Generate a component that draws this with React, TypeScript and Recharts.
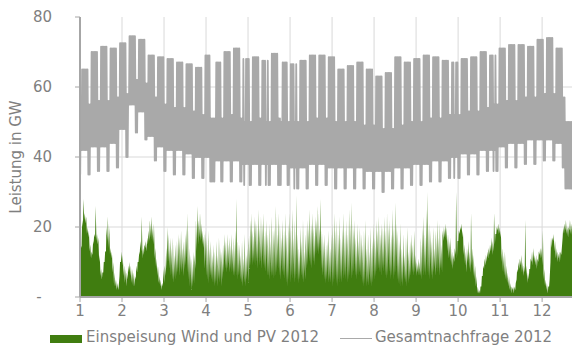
import React from 'react';
import { ComposedChart, Area, Line, XAxis, YAxis, CartesianGrid, Legend } from 'recharts';

const FONT = '"DejaVu Sans", Arial, sans-serif';
const TEXT = '#7f7f7f';
const AXIS = '#a6a6a6';
const GREEN = '#407d10';
const GREY = '#a9a9a9';

// x axis: one unit = 744 h (31 days), labels 1..12
const MONTH_TICKS = [1, 2, 3, 4, 5, 6, 7, 8, 9, 10, 11, 12];
const GRID_X = [2, 3, 4, 5, 6, 7, 8, 9, 10, 11, 12];
const Y_TICKS = [0, 20, 40, 60, 80];
const GRID_Y = [20, 40, 60];

// Gesamtnachfrage 2012, GW, per week (Mon-Sun, week 0 starts 2 Jan)
const weekdayPeak = [
  65, 70, 71.5, 71, 72.5, 74.5, 73.5, 69, 68.5, 68, 67, 66.5, 65.5,
  69, 67, 70, 71, 68, 68.5, 67.5, 69.5, 67, 66.5, 67.5, 69, 69,
  68.5, 65, 66, 67, 65, 63, 64, 68.5, 67, 68, 69, 68.5, 67.5,
  67, 68, 68.5, 70, 69, 71, 72, 72, 71.5, 73.5, 74, 71, 58,
];
const weekdayNight = [
  42, 43, 43, 44, 48, 55, 53, 46, 43, 42, 42, 41, 40,
  40, 39, 39, 39, 38, 38, 38, 38, 38, 37, 37, 38, 38,
  37, 37, 37, 37, 36, 36, 36, 37, 37, 38, 38, 39, 39,
  40, 41, 41, 42, 42, 43, 44, 44, 45, 45, 45, 44, 37,
];
const weekendPeak = [
  55, 56, 56, 57, 58, 62, 61, 57, 55, 54, 54, 53, 52,
  51, 51, 52, 51, 50, 51, 50, 51, 50, 50, 50, 51, 51,
  50, 50, 50, 49, 49, 48, 48, 49, 50, 50, 51, 51, 52,
  52, 53, 53, 54, 55, 56, 56, 57, 57, 58, 58, 57, 50,
];
const weekendNight = [
  35, 36, 36, 37, 40, 47, 45, 39, 36, 35, 35, 34, 34,
  33, 33, 33, 33, 32, 32, 32, 32, 32, 31, 31, 32, 32,
  31, 31, 31, 31, 31, 30, 31, 31, 32, 32, 33, 33, 34,
  34, 35, 35, 36, 36, 37, 37, 38, 38, 39, 39, 37, 31,
];
// public holidays (day of year, 0 = 1 Jan)
const holidays = [0, 96, 99, 121, 137, 148, 158, 276, 305, 358, 359, 360, 361, 362, 363, 364, 365];

// Einspeisung Wind und PV 2012, GW, per day [night, midday]
const windPvQ1 = [
  [8, 15], [14, 22], [20, 28], [22, 24], [21, 23], [18, 20], [17, 19], [13, 15], [11, 13], [12, 15],
  [16, 18], [17, 26], [16, 18], [15, 17], [10, 12], [6, 8], [5, 7], [7, 10], [10, 13], [13, 20],
  [16, 23], [14, 20], [12, 14], [11, 13], [7, 10], [3, 7], [3, 5], [2, 4], [2, 3], [6, 10],
  [10, 13], [9, 12], [6, 9], [4, 8], [3, 7], [5, 9], [7, 10], [6, 9], [4, 8], [3, 7],
  [3, 6], [5, 9], [7, 10], [10, 12], [13, 16], [13, 23], [11, 14], [12, 15], [14, 16], [13, 17],
  [15, 19], [16, 22], [17, 23], [16, 20], [15, 21], [11, 14], [8, 11], [6, 9], [4, 6], [3, 5],
  [2, 4], [3, 8], [4, 9], [6, 14], [8, 20], [10, 18], [8, 17], [6, 14], [5, 17], [4, 12],
  [5, 15], [6, 16], [7, 18], [6, 17], [8, 19], [7, 14], [6, 16], [8, 18], [9, 20], [7, 24],
  [5, 14], [3, 12], [2, 11], [3, 13], [4, 12], [8, 22], [13, 26], [15, 22], [17, 24], [16, 21],
  [15, 19],
];
const windPvQ2 = [
  [14, 18], [8, 19], [6, 17], [5, 19], [4, 14], [6, 16], [5, 12], [4, 15], [3, 13], [4, 16],
  [3, 12], [5, 17], [4, 14], [3, 13], [5, 15], [7, 18], [8, 16], [7, 18], [8, 15], [7, 17],
  [8, 18], [7, 14], [6, 17], [6, 19], [6, 28], [5, 16], [6, 15], [5, 12], [4, 16], [3, 11],
  [4, 18], [3, 12], [5, 14], [4, 17], [8, 22], [9, 24], [9, 19], [10, 23], [9, 22], [10, 21],
  [8, 25], [9, 20], [10, 23], [8, 21], [9, 24], [8, 19], [7, 22], [6, 18], [6, 21], [5, 16],
  [6, 23], [6, 19], [5, 20], [6, 26], [7, 18], [8, 24], [6, 21], [5, 17], [7, 22], [6, 19],
  [5, 24], [4, 18], [3, 21], [5, 24], [4, 20], [6, 25], [5, 17], [4, 22], [5, 29], [5, 18],
  [4, 14], [5, 20], [6, 16], [5, 22], [4, 13], [5, 18], [8, 22], [9, 20], [10, 25], [9, 21],
  [8, 24], [10, 20], [9, 23], [12, 22], [13, 26], [12, 20], [13, 28], [8, 19], [6, 16], [5, 18],
  [4, 15],
];
const windPvQ3 = [
  [5, 16], [4, 19], [5, 14], [4, 18], [3, 21], [4, 24], [5, 19], [4, 22], [3, 18], [4, 23],
  [5, 17], [4, 20], [5, 24], [6, 19], [5, 22], [4, 18], [5, 25], [6, 21], [5, 27], [6, 20],
  [7, 22], [6, 17], [5, 21], [6, 16], [7, 20], [6, 18], [4, 15], [3, 19], [4, 22], [3, 14],
  [4, 18], [3, 13], [4, 20], [3, 16], [4, 21], [5, 17], [6, 22], [7, 19], [8, 23], [7, 18],
  [6, 21], [8, 20], [7, 23], [6, 19], [5, 24], [6, 20], [7, 22], [5, 18], [6, 25], [5, 20],
  [6, 27], [7, 21], [5, 19], [4, 16], [3, 21], [4, 14], [3, 18], [5, 12], [4, 17], [3, 20],
  [4, 13], [5, 16], [6, 18], [7, 15], [6, 19], [7, 12], [6, 10], [7, 11], [6, 10], [6, 17],
  [5, 20], [6, 23], [7, 18], [6, 25], [7, 30], [6, 21], [5, 19], [6, 16], [5, 20], [7, 14],
  [6, 19], [8, 22], [7, 17], [6, 21], [8, 15], [7, 19], [16, 20], [17, 21], [16, 20], [13, 18],
  [11, 16], [10, 17],
];
const windPvQ4 = [
  [9, 13], [8, 12], [10, 14], [12, 30], [11, 16], [16, 19], [18, 20], [19, 21], [17, 19], [12, 15],
  [9, 13], [7, 14], [10, 16], [8, 13], [7, 24], [9, 14], [6, 12], [5, 9], [3, 6], [1, 3],
  [1, 2], [1, 3], [3, 6], [6, 9], [8, 11], [9, 12], [10, 13], [11, 14], [12, 15], [13, 17],
  [12, 16], [13, 24], [15, 18], [18, 20], [19, 21], [18, 20], [17, 19], [10, 14], [7, 12], [6, 13],
  [5, 9], [4, 7], [3, 6], [2, 4], [1, 3], [2, 3], [1, 3], [2, 4], [5, 8], [7, 10],
  [8, 11], [9, 12], [7, 10], [6, 9], [7, 22], [6, 9], [4, 7], [5, 8], [8, 11], [10, 13],
  [9, 14], [10, 12], [9, 12], [8, 11], [10, 13], [12, 14], [11, 14], [9, 19], [5, 8], [3, 5],
  [2, 4], [1, 3], [3, 5], [10, 17], [14, 17], [16, 18], [13, 16], [11, 14], [10, 13], [11, 13],
  [10, 13], [12, 14], [17, 20], [18, 21], [19, 22], [18, 20], [17, 20], [19, 22], [18, 21], [17, 20],
  [16, 19], [15, 18],
];

const windPv = [...windPvQ1, ...windPvQ2, ...windPvQ3, ...windPvQ4];

const rows: { t: number; demand: number; windPv: number }[] = [];
windPv.forEach(([night, noon], d) => {
  const k = Math.min(Math.max(Math.floor((d - 1) / 7), 0), weekdayPeak.length - 1);
  const off = d % 7 === 0 || d % 7 === 6 || holidays.includes(d);
  rows.push({ t: 1 + (d + 0.15) / 31, demand: off ? weekendNight[k] : weekdayNight[k], windPv: night });
  rows.push({ t: 1 + (d + 0.55) / 31, demand: off ? weekendPeak[k] : weekdayPeak[k], windPv: noon });
});

const YTick = (props: any) => {
  const { x, y, payload } = props;
  if (payload.value === 0) {
    return (
      <text x={39} y={y} dy="0.35em" textAnchor="middle" fill={TEXT} fontSize={15}>-</text>
    );
  }
  return (
    <text x={x} y={y} dy="0.35em" textAnchor="end" fill={TEXT} fontSize={15}>{payload.value}</text>
  );
};

const ChartLegend = () => (
  <div style={{ position: 'relative', width: 572, height: 22, fontSize: 15, color: TEXT, fontFamily: FONT }}>
    <div style={{ position: 'absolute', left: 50, top: 10, width: 32, height: 8, background: GREEN }} />
    <span style={{ position: 'absolute', left: 86, top: 3, lineHeight: '18px', whiteSpace: 'nowrap' }}>
      Einspeisung Wind und PV 2012
    </span>
    <div style={{ position: 'absolute', left: 340, top: 13, width: 32, height: 1, background: GREY }} />
    <span style={{ position: 'absolute', left: 375, top: 3, lineHeight: '18px', whiteSpace: 'nowrap' }}>
      Gesamtnachfrage 2012
    </span>
  </div>
);

export default function App() {
  return (
    <div
      style={{
        position: 'absolute', left: 0, top: 0, width: 572, height: 347,
        overflow: 'hidden', background: '#fff', fontFamily: FONT,
      }}
    >
      <ComposedChart width={600} height={347} data={rows} margin={{ top: 17, right: 24, bottom: 0, left: 0 }}>
        <XAxis
          dataKey="t"
          type="number"
          domain={[1, 1 + 366 / 31]}
          ticks={MONTH_TICKS}
          interval={0}
          allowDataOverflow
          height={28}
          tickSize={5}
          tickMargin={3}
          axisLine={{ stroke: AXIS, strokeWidth: 2 }}
          tickLine={{ stroke: AXIS }}
          tick={{ fill: TEXT, fontSize: 15 }}
        />
        <YAxis
          type="number"
          domain={[0, 80]}
          ticks={Y_TICKS}
          interval={0}
          width={80}
          tickSize={5}
          tickMargin={23}
          axisLine={{ stroke: AXIS, strokeWidth: 2 }}
          tickLine={{ stroke: AXIS }}
          tick={YTick}
          label={{
            value: 'Leistung in GW', angle: -90, position: 'insideLeft', offset: 16,
            fill: TEXT, fontSize: 15, style: { textAnchor: 'middle' },
          }}
        />
        <Area
          dataKey="windPv"
          name="Einspeisung Wind und PV 2012"
          type="linear"
          stroke="none"
          fill={GREEN}
          fillOpacity={1}
          dot={false}
          activeDot={false}
          isAnimationActive={false}
        />
        <Line
          dataKey="demand"
          name="Gesamtnachfrage 2012"
          type="linear"
          stroke={GREY}
          strokeWidth={1.8}
          strokeLinejoin="round"
          dot={false}
          activeDot={false}
          isAnimationActive={false}
        />
        <CartesianGrid horizontalValues={GRID_Y} verticalValues={GRID_X} stroke="#d9d9d9" />
        <Legend verticalAlign="bottom" height={22} content={ChartLegend} wrapperStyle={{ left: 0, bottom: 0, width: 572 }} />
      </ComposedChart>
    </div>
  );
}
